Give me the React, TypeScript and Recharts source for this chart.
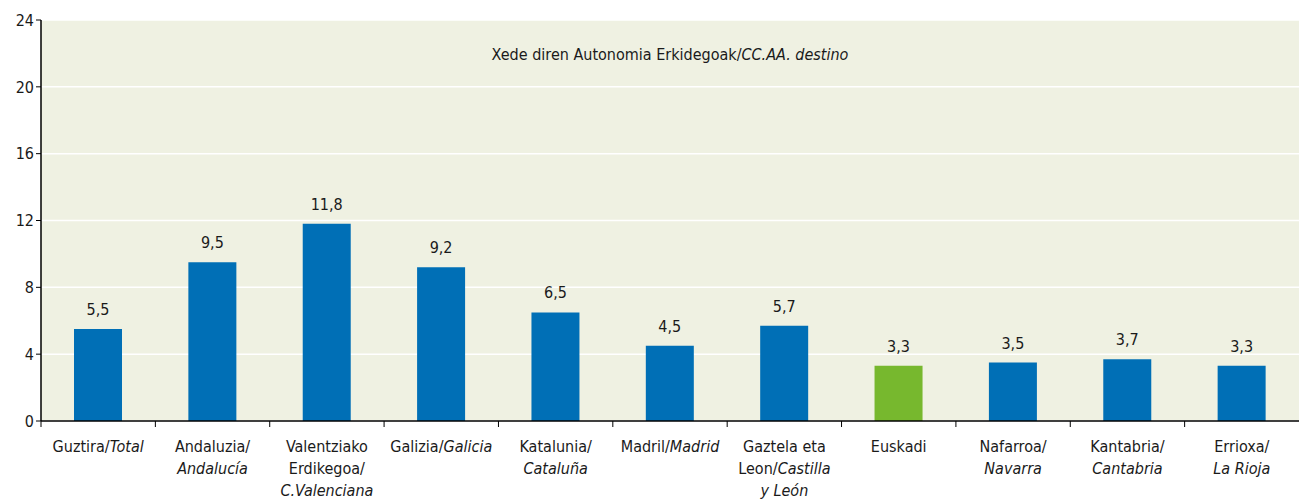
import { BarChart, Bar, XAxis, YAxis, CartesianGrid, Cell, LabelList } from 'recharts';

// category labels: "|" breaks a line, text between "_" is italic
const categories = [
  'Guztira/_Total_',
  'Andaluzia/|_Andalucía_',
  'Valentziako|Erdikegoa/|_C.Valenciana_',
  'Galizia/_Galicia_',
  'Katalunia/|_Cataluña_',
  'Madril/_Madrid_',
  'Gaztela eta|Leon/_Castilla_|_y León_',
  'Euskadi',
  'Nafarroa/|_Navarra_',
  'Kantabria/|_Cantabria_',
  'Errioxa/|_La Rioja_',
];
const values = [5.5, 9.5, 11.8, 9.2, 6.5, 4.5, 5.7, 3.3, 3.5, 3.7, 3.3];
const yTicks = [0, 4, 8, 12, 16, 20, 24];
const highlight = 'Euskadi';

const data = categories.map((name, i) => ({ name, value: values[i] }));

const FONT = '"Liberation Sans Narrow", "DejaVu Sans Condensed", "Roboto Condensed", sans-serif';
const W = 1299;
const H = 501;
const LEFT = 41;
const STEP = (W - LEFT) / categories.length;

function CategoryTick(props: any) {
  const { x, y, payload } = props;
  const lines: string[] = String(payload.value).split('|');
  return (
    <g>
      <line x1={x - STEP / 2} x2={x - STEP / 2} y1={y - 8} y2={y - 2} stroke="#000" strokeWidth={1} />
      <text x={x} y={y + 23} textAnchor="middle" fontFamily={FONT} fontSize={16} fill="#1a1a1a">
        {lines.map((line, li) => (
          <tspan key={li} x={x} dy={li === 0 ? 0 : 22}>
            {line.split('_').map((part, pi) =>
              part ? (
                <tspan key={pi} fontStyle={pi % 2 === 1 ? 'italic' : 'normal'}>
                  {part}
                </tspan>
              ) : null
            )}
          </tspan>
        ))}
      </text>
    </g>
  );
}

export default function App() {
  return (
    <div style={{ position: 'absolute', left: 0, top: 0, width: W, height: H, background: '#fff' }}>
      <BarChart width={W} height={H} data={data} margin={{ top: 20, right: 0, left: 0, bottom: 0 }}>
        <CartesianGrid vertical={false} stroke="#ffffff" strokeWidth={1.5} fill="#eff1e2" />
        <XAxis
          dataKey="name"
          interval={0}
          height={80}
          tickLine={false}
          axisLine={{ stroke: '#000', strokeWidth: 1.5 }}
          tick={<CategoryTick />}
        />
        <YAxis
          width={LEFT}
          domain={[0, 24]}
          ticks={yTicks}
          interval={0}
          tickSize={5}
          tickLine={{ stroke: '#000' }}
          axisLine={{ stroke: '#000', strokeWidth: 1.5 }}
          tick={{ fontFamily: FONT, fontSize: 16, fill: '#1a1a1a' }}
        />
        <Bar dataKey="value" barSize={48} isAnimationActive={false}>
          {data.map((d) => (
            <Cell key={d.name} fill={d.name === highlight ? '#77b82e' : '#006fb6'} />
          ))}
          <LabelList
            dataKey="value"
            position="top"
            offset={14}
            formatter={(v: any) => String(v).replace('.', ',')}
            style={{ fontFamily: FONT, fontSize: 16, fill: '#1a1a1a' }}
          />
        </Bar>
      </BarChart>
      <div
        style={{
          position: 'absolute',
          left: LEFT,
          width: W - LEFT,
          top: 45,
          textAlign: 'center',
          fontFamily: FONT,
          fontSize: 16,
          color: '#1a1a1a',
        }}
      >
        Xede diren Autonomia Erkidegoak/<i>CC.AA. destino</i>
      </div>
    </div>
  );
}
